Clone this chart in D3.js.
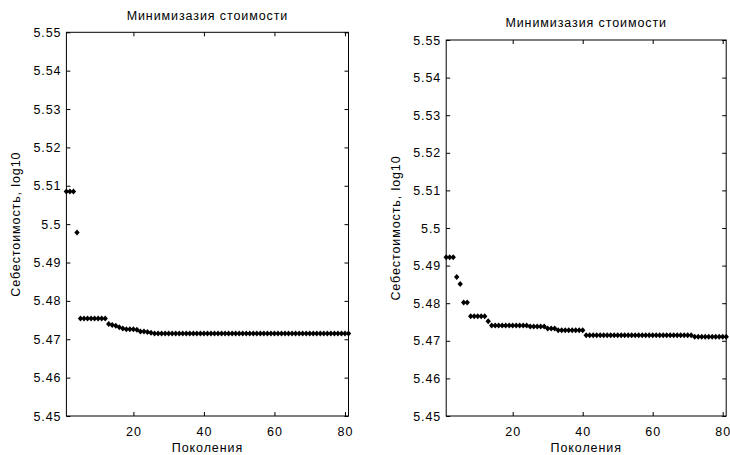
<!DOCTYPE html>
<html>
<head>
<meta charset="utf-8">
<script src="https://cdn.jsdelivr.net/npm/d3@7"></script>
<style>
  html, body { margin: 0; padding: 0; background: #fff; }
  svg text { font-family: "Liberation Sans", Arial, sans-serif; fill: #000; }
</style>
</head>
<body>
<svg id="chart" width="730" height="455"></svg>
<script>
// Generations 1..81
const generations = d3.range(1, 82);

// Best cost per generation (log10), run A
const costRunA = [
  5.5085, 5.5085, 5.5085, 5.4978,
  5.4754, 5.4754, 5.4754, 5.4754, 5.4754, 5.4754, 5.4754, 5.4754,
  5.4740, 5.4737, 5.4735, 5.4731, 5.4728, 5.4726, 5.4726, 5.4726,
  5.4725, 5.4720, 5.4720, 5.4719, 5.4717,
  5.4715, 5.4715, 5.4715, 5.4715, 5.4715, 5.4715, 5.4715, 5.4715, 5.4715, 5.4715,
  5.4715, 5.4715, 5.4715, 5.4715, 5.4715, 5.4715, 5.4715, 5.4715, 5.4715, 5.4715,
  5.4715, 5.4715, 5.4715, 5.4715, 5.4715, 5.4715, 5.4715, 5.4715, 5.4715, 5.4715,
  5.4715, 5.4715, 5.4715, 5.4715, 5.4715, 5.4715, 5.4715, 5.4715, 5.4715, 5.4715,
  5.4715, 5.4715, 5.4715, 5.4715, 5.4715, 5.4715, 5.4715, 5.4715, 5.4715, 5.4715,
  5.4715, 5.4715, 5.4715, 5.4715, 5.4715, 5.4715
];

// Best cost per generation (log10), run B
const costRunB = [
  5.4922, 5.4922, 5.4922, 5.4870, 5.4851,
  5.4802, 5.4802,
  5.4765, 5.4765, 5.4765, 5.4765, 5.4765,
  5.4752,
  5.4741, 5.4741, 5.4741, 5.4741, 5.4741, 5.4741, 5.4741, 5.4741, 5.4741, 5.4741, 5.4741,
  5.4738, 5.4738, 5.4738, 5.4738, 5.4738,
  5.4733, 5.4733, 5.4733,
  5.4728, 5.4728, 5.4728, 5.4728, 5.4728, 5.4728, 5.4728, 5.4728,
  5.4715, 5.4715, 5.4715, 5.4715, 5.4715, 5.4715, 5.4715, 5.4715, 5.4715, 5.4715,
  5.4715, 5.4715, 5.4715, 5.4715, 5.4715, 5.4715, 5.4715, 5.4715, 5.4715, 5.4715,
  5.4715, 5.4715, 5.4715, 5.4715, 5.4715, 5.4715, 5.4715, 5.4715, 5.4715, 5.4715,
  5.4715,
  5.4711, 5.4711, 5.4711, 5.4711, 5.4711, 5.4711, 5.4711, 5.4711, 5.4711, 5.4711
];

const xTicks = [20, 40, 60, 80];
const yTicks = [5.45, 5.46, 5.47, 5.48, 5.49, 5.5, 5.51, 5.52, 5.53, 5.54, 5.55];
const yTickLabels = ["5.45", "5.46", "5.47", "5.48", "5.49", "5.5", "5.51", "5.52", "5.53", "5.54", "5.55"];

const titleText = "Минимизазия стоимости";
const xLabelText = "Поколения";
const yLabelText = "Себестоимость, log10";

const svg = d3.select("#chart");

const panels = [
  { values: costRunA, left: 66.4, right: 348.5, top: 32.3, bottom: 416, titleY: 20, yLabelX: 20 },
  { values: costRunB, left: 446.2, right: 726.2, top: 40, bottom: 416, titleY: 27, yLabelX: 400 }
];

const diamond = "M0,-3L2.7,0L0,3L-2.7,0Z";
const tickLen = 4;
const fontSize = "12.5px";
const spacing = "0.9px";

panels.forEach(p => {
  const x = d3.scaleLinear().domain([1, 81]).range([p.left, p.right]);
  const y = d3.scaleLinear().domain([5.45, 5.55]).range([p.bottom, p.top]);
  const g = svg.append("g");

  // frame
  g.append("rect")
    .attr("x", p.left).attr("y", p.top)
    .attr("width", p.right - p.left).attr("height", p.bottom - p.top)
    .attr("fill", "none").attr("stroke", "#000").attr("stroke-width", 1);

  // bottom axis with inward ticks
  const xb = g.append("g").attr("transform", `translate(0,${p.bottom})`)
    .call(d3.axisBottom(x).tickValues(xTicks).tickSize(-tickLen).tickPadding(11).tickFormat(d3.format("d")));
  // top axis ticks (mirrored)
  const xt = g.append("g").attr("transform", `translate(0,${p.top})`)
    .call(d3.axisTop(x).tickValues(xTicks).tickSize(-tickLen).tickFormat(""));
  // left axis with inward ticks
  const yl = g.append("g").attr("transform", `translate(${p.left},0)`)
    .call(d3.axisLeft(y).tickValues(yTicks).tickSize(-tickLen).tickPadding(5)
      .tickFormat((d, i) => yTickLabels[i]));
  // right axis ticks (mirrored)
  const yr = g.append("g").attr("transform", `translate(${p.right},0)`)
    .call(d3.axisRight(y).tickValues(yTicks).tickSize(-tickLen).tickFormat(""));

  [xb, xt, yl, yr].forEach(a => {
    a.select(".domain").remove();
    a.selectAll(".tick line").attr("stroke", "#000");
    a.selectAll(".tick text")
      .style("font-family", "'Liberation Sans', Arial, sans-serif")
      .style("font-size", fontSize).style("letter-spacing", spacing)
      .attr("fill", "#000");
  });

  // title
  g.append("text")
    .attr("x", (p.left + p.right) / 2).attr("y", p.titleY)
    .attr("text-anchor", "middle").style("font-size", fontSize).style("letter-spacing", spacing)
    .text(titleText);

  // x label
  g.append("text")
    .attr("x", (p.left + p.right) / 2).attr("y", 452)
    .attr("text-anchor", "middle").style("font-size", fontSize).style("letter-spacing", spacing)
    .text(xLabelText);

  // y label
  g.append("text")
    .attr("transform", `translate(${p.yLabelX},${(p.top + p.bottom) / 2}) rotate(-90)`)
    .attr("text-anchor", "middle").style("font-size", fontSize).style("letter-spacing", spacing)
    .text(yLabelText);

  // markers
  g.append("g").selectAll("path")
    .data(generations.map((gen, i) => ({ gen, val: p.values[i] })))
    .join("path")
    .attr("d", diamond)
    .attr("transform", d => `translate(${x(d.gen)},${y(d.val)})`)
    .attr("fill", "#000");
});
</script>
</body>
</html>
